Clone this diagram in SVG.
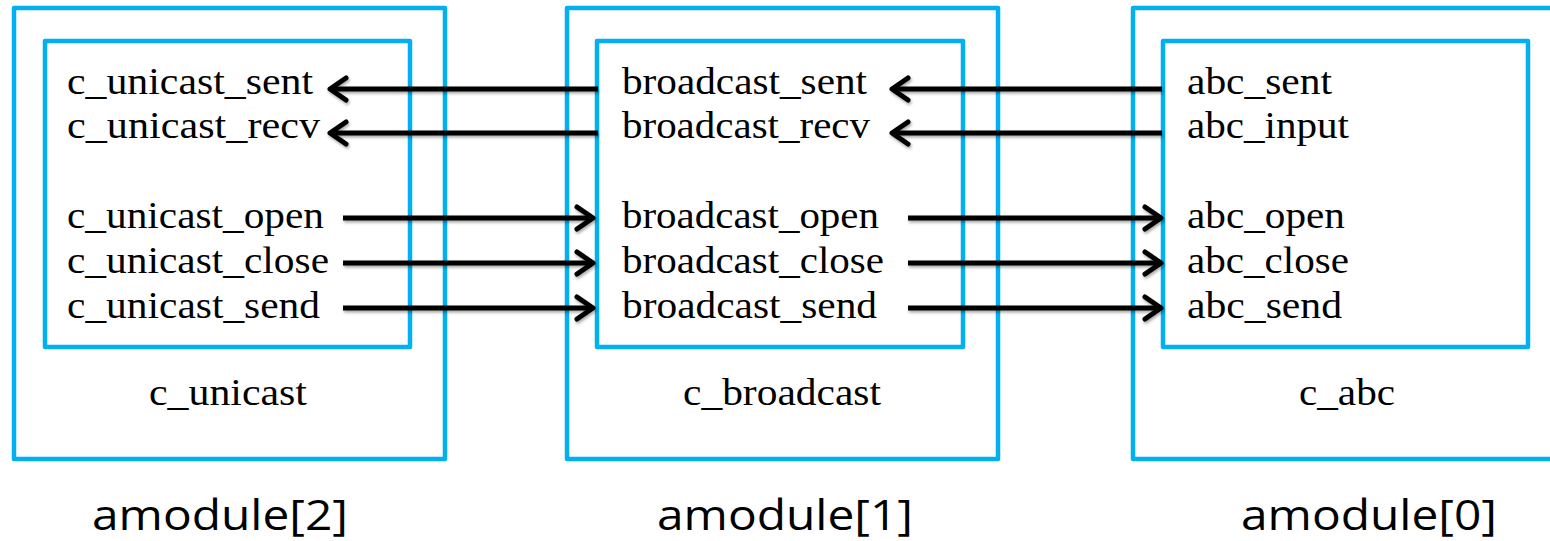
<svg xmlns="http://www.w3.org/2000/svg" width="1550" height="541" viewBox="0 0 1550 541">
<style>
.box{fill:none;stroke:#00B0F0;stroke-width:4.5;stroke-linejoin:round}
.sig{font-family:"Liberation Serif","Times New Roman",serif;font-size:37px;fill:#000}
.cname{font-family:"Liberation Serif","Times New Roman",serif;font-size:37px;fill:#000;text-anchor:middle}
.mod{font-family:"Open Sans","Noto Sans",sans-serif;font-size:42px;fill:#000;text-anchor:middle}
.arr{stroke:#000;stroke-width:5;fill:none;marker-end:url(#head)}
</style>
<defs>
<marker id="head" markerUnits="userSpaceOnUse" viewBox="-22 -15 26 30" refX="0" refY="0" markerWidth="26" markerHeight="30" orient="auto">
<path d="M -16 -11 L 0 0 L -16 11" fill="none" stroke="#000" stroke-width="5" stroke-linejoin="round" stroke-linecap="round"/>
</marker>
<filter id="sh" filterUnits="userSpaceOnUse" x="0" y="0" width="1550" height="541">
<feDropShadow dx="1" dy="2" stdDeviation="1.5" flood-color="#000" flood-opacity="0.35"/>
</filter>
</defs>
<g id="amodule2">
<rect class="box" x="14" y="8" width="431" height="451"/>
<g id="c_unicast">
<rect class="box" x="45" y="41" width="365" height="306"/>
<text class="sig" x="67" y="94" textLength="246" lengthAdjust="spacingAndGlyphs">c_unicast_sent</text>
<text class="sig" x="67" y="138" textLength="253" lengthAdjust="spacingAndGlyphs">c_unicast_recv</text>
<text class="sig" x="67" y="228" textLength="257" lengthAdjust="spacingAndGlyphs">c_unicast_open</text>
<text class="sig" x="67" y="273" textLength="262" lengthAdjust="spacingAndGlyphs">c_unicast_close</text>
<text class="sig" x="67" y="318" textLength="253" lengthAdjust="spacingAndGlyphs">c_unicast_send</text>
</g>
<text class="cname" x="228" y="405" textLength="158" lengthAdjust="spacingAndGlyphs">c_unicast</text>
<text class="mod" x="220" y="530" textLength="256" lengthAdjust="spacingAndGlyphs">amodule[2]</text>
</g>
<g id="amodule1">
<rect class="box" x="567" y="8" width="431" height="451"/>
<g id="c_broadcast">
<rect class="box" x="597" y="41" width="366" height="306"/>
<text class="sig" x="622" y="94" textLength="245" lengthAdjust="spacingAndGlyphs">broadcast_sent</text>
<text class="sig" x="622" y="138" textLength="248" lengthAdjust="spacingAndGlyphs">broadcast_recv</text>
<text class="sig" x="622" y="228" textLength="257" lengthAdjust="spacingAndGlyphs">broadcast_open</text>
<text class="sig" x="622" y="273" textLength="262" lengthAdjust="spacingAndGlyphs">broadcast_close</text>
<text class="sig" x="622" y="318" textLength="255" lengthAdjust="spacingAndGlyphs">broadcast_send</text>
</g>
<text class="cname" x="782" y="405" textLength="198" lengthAdjust="spacingAndGlyphs">c_broadcast</text>
<text class="mod" x="785" y="530" textLength="256" lengthAdjust="spacingAndGlyphs">amodule[1]</text>
</g>
<g id="amodule0">
<rect class="box" x="1133" y="8" width="440" height="451"/>
<g id="c_abc">
<rect class="box" x="1163" y="41" width="365" height="306"/>
<text class="sig" x="1187" y="94" textLength="145" lengthAdjust="spacingAndGlyphs">abc_sent</text>
<text class="sig" x="1187" y="138" textLength="162" lengthAdjust="spacingAndGlyphs">abc_input</text>
<text class="sig" x="1187" y="228" textLength="158" lengthAdjust="spacingAndGlyphs">abc_open</text>
<text class="sig" x="1187" y="273" textLength="162" lengthAdjust="spacingAndGlyphs">abc_close</text>
<text class="sig" x="1187" y="318" textLength="155" lengthAdjust="spacingAndGlyphs">abc_send</text>
</g>
<text class="cname" x="1347" y="405" textLength="96" lengthAdjust="spacingAndGlyphs">c_abc</text>
<text class="mod" x="1369" y="530" textLength="256" lengthAdjust="spacingAndGlyphs">amodule[0]</text>
</g>
<g id="connectors" filter="url(#sh)">
<path class="arr" d="M 598 89 H 330"/>
<path class="arr" d="M 598 133 H 330"/>
<path class="arr" d="M 1162 89 H 892"/>
<path class="arr" d="M 1162 133 H 892"/>
<path class="arr" d="M 343 218 H 593"/>
<path class="arr" d="M 343 263 H 593"/>
<path class="arr" d="M 343 308 H 593"/>
<path class="arr" d="M 908 218 H 1161"/>
<path class="arr" d="M 908 263 H 1161"/>
<path class="arr" d="M 908 308 H 1161"/>
</g>
</svg>
